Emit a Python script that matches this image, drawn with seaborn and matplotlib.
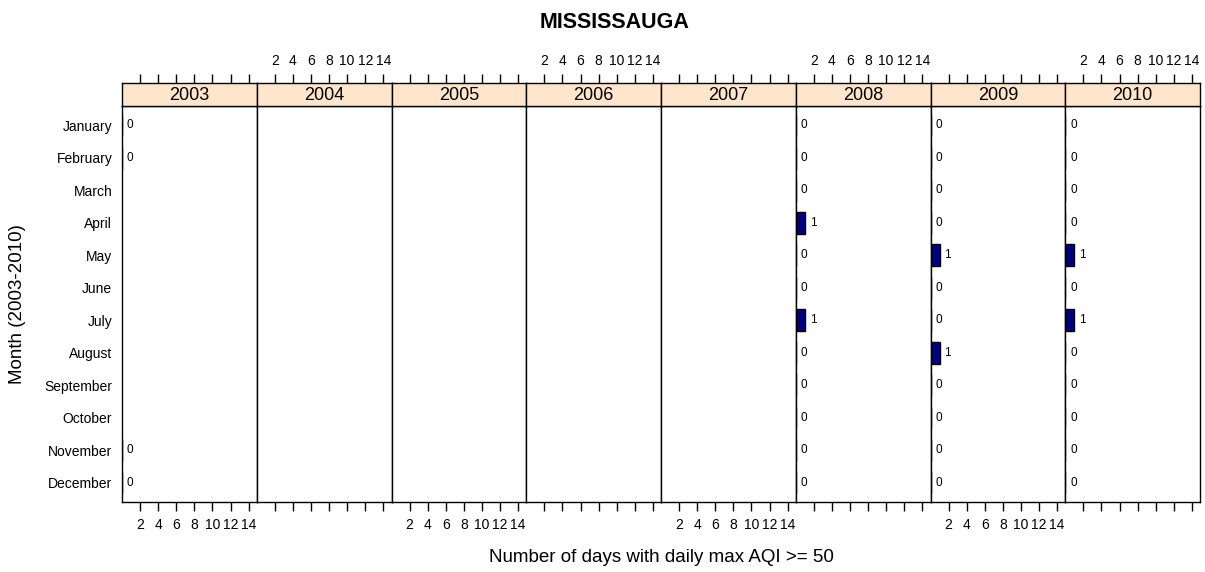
import numpy as np
import pandas as pd
import matplotlib.pyplot as plt
import seaborn as sns

sns.set_style('white')
plt.rcParams['font.family'] = ['Liberation Sans', 'DejaVu Sans']
plt.rcParams['text.color'] = 'black'
plt.rcParams['xtick.color'] = 'black'
plt.rcParams['ytick.color'] = 'black'
plt.rcParams['axes.labelcolor'] = 'black'

months = ['January', 'February', 'March', 'April', 'May', 'June', 'July',
          'August', 'September', 'October', 'November', 'December']
years = ['2003', '2004', '2005', '2006', '2007', '2008', '2009', '2010']

nan = np.nan
days_2003 = [0, 0, nan, nan, nan, nan, nan, nan, nan, nan, 0, 0]
days_2004 = [nan] * 12
days_2005 = [nan] * 12
days_2006 = [nan] * 12
days_2007 = [nan] * 12
days_2008 = [0, 0, 0, 1, 0, 0, 1, 0, 0, 0, 0, 0]
days_2009 = [0, 0, 0, 0, 1, 0, 0, 1, 0, 0, 0, 0]
days_2010 = [0, 0, 0, 0, 1, 0, 1, 0, 0, 0, 0, 0]

tick_vals = [2, 4, 6, 8, 10, 12, 14]

all_days = [days_2003, days_2004, days_2005, days_2006,
            days_2007, days_2008, days_2009, days_2010]
df = pd.concat([pd.DataFrame({'year': y, 'month': months, 'days': d})
                for y, d in zip(years, all_days)])
df = df.dropna()

g = sns.FacetGrid(df, col='year', col_order=years, sharex=True, sharey=True,
                  despine=False, height=4, aspect=0.3)
g.map_dataframe(sns.barplot, x='days', y='month', order=months, orient='h',
                color='#000080', saturation=1, edgecolor='black', linewidth=1,
                width=0.667, errorbar=None)
g.set_titles('')
g.set_axis_labels('', '')

fig = g.figure
fig.set_size_inches(12.05, 5.72)
W, H = 1205, 572
fig.subplots_adjust(left=122 / W, right=1200 / W, bottom=1 - 502 / H,
                    top=1 - 106 / H, wspace=0)

for i, (ax, yr) in enumerate(zip(g.axes.flat, years)):
    ax.set_xlim(0, 14.9)
    ax.set_ylim(11.6, -0.6)
    for c in ax.containers:
        ax.bar_label(c, fmt='%d', padding=3.5, fontsize=8.5, color='black')
    for s in ax.spines.values():
        s.set_color('black')
        s.set_linewidth(1)
    ax.set_xticks(tick_vals)
    ax.tick_params(axis='x', direction='out', length=6.5, width=1, color='black',
                   labelsize=10, pad=5, bottom=True, labelbottom=(i % 2 == 0))
    ax.tick_params(axis='y', length=0, labelsize=10, pad=7)

    pos = ax.get_position()
    sax = fig.add_axes([pos.x0, pos.y1, pos.width, 23 / H])
    sax.set_facecolor('#FFE5CC')
    sax.set_xlim(ax.get_xlim())
    sax.set_yticks([])
    for s in sax.spines.values():
        s.set_color('black')
        s.set_linewidth(1)
    sax.set_xticks(tick_vals)
    sax.xaxis.tick_top()
    sax.tick_params(axis='x', direction='out', length=6.5, width=1, color='black',
                    labelsize=10, pad=4, labeltop=(i % 2 == 1))
    sax.text(0.5, 0.45, yr, transform=sax.transAxes, ha='center', va='center',
             fontsize=13)

fig.text(615 / W, 1 - 22 / H, 'MISSISSAUGA', ha='center', va='center',
         fontsize=15.5, fontweight='bold')
fig.text(661 / W, 1 - 557 / H, 'Number of days with daily max AQI >= 50',
         ha='center', va='center', fontsize=13.5)
fig.text(18 / W, 1 - 304 / H, 'Month (2003-2010)', rotation=90,
         ha='center', va='center', fontsize=13.5)

fig.savefig('out.png', dpi=100)
